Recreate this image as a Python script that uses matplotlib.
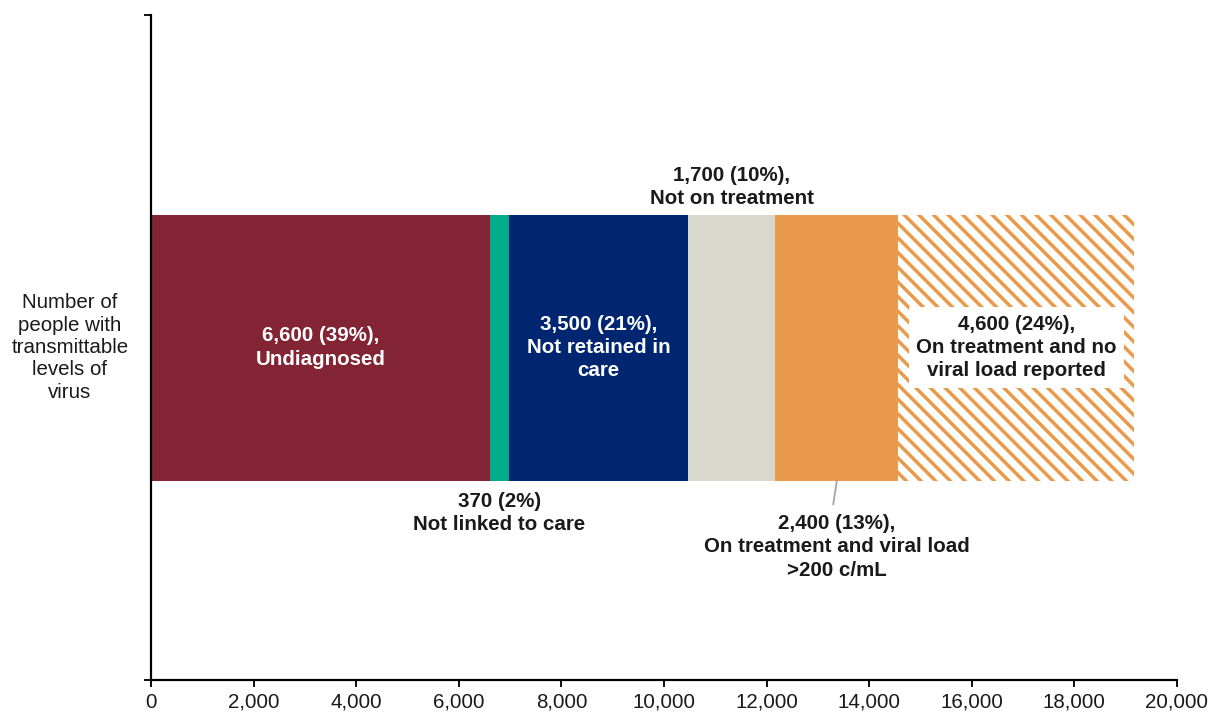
import matplotlib
matplotlib.use("Agg")
import matplotlib.pyplot as plt
from matplotlib.ticker import FuncFormatter

# values
values = [6600, 370, 3500, 1700, 2400, 4600]
labels = [
    "6,600 (39%),\nUndiagnosed",
    "370 (2%)\nNot linked to care",
    "3,500 (21%),\nNot retained in\ncare",
    "1,700 (10%),\nNot on treatment",
    "2,400 (13%),\nOn treatment and viral load\n>200 c/mL",
    "4,600 (24%),\nOn treatment and no\nviral load reported",
]
colors = ["#822433", "#00AE8D", "#002672", "#D9D8CC", "#E99A4B", "#E99A4B"]
row_label = "Number of\npeople with\ntransmittable\nlevels of\nvirus"
xticks = list(range(0, 20001, 2000))

DPI = 132
plt.rcParams["font.family"] = ["Liberation Sans", "DejaVu Sans"]
plt.rcParams["hatch.linewidth"] = 1.9

fig = plt.figure(figsize=(1213 / DPI, 716 / DPI), dpi=DPI)
ax = fig.add_axes([151 / 1213, 36 / 716, 1026 / 1213, 665 / 716])

left = 0
mids = []
for i, (v, c) in enumerate(zip(values, colors)):
    if i == len(values) - 1:
        ax.barh(0, v, left=left, height=0.4, color="white", edgecolor=c,
                hatch="\\\\\\", linewidth=0)
    else:
        ax.barh(0, v, left=left, height=0.4, color=c, linewidth=0)
    mids.append(left + v / 2)
    left += v

fs = 11.2
kw = dict(ha="center", va="center", fontsize=fs, fontweight="bold", linespacing=1.3)
ax.text(mids[0], 0, labels[0], color="white", **kw)
ax.text(mids[2], 0, labels[2], color="white", **kw)
ax.text(mids[1], -0.249, labels[1], color="#1a1a1a", **kw)
ax.text(mids[3], 0.241, labels[3], color="#1a1a1a", **kw)
ax.text(mids[4], -0.30, labels[4], color="#1a1a1a", **kw)
ax.text(mids[5], 0, labels[5], color="#1a1a1a",
        bbox=dict(facecolor="white", edgecolor="none", pad=4), **kw)

# leader line for the 2,400 segment
ax.annotate("", xy=(mids[4], -0.2), xytext=(-2, -13), textcoords="offset points",
            arrowprops=dict(arrowstyle="-", color="#A6A6A6", lw=1, shrinkA=0, shrinkB=0))

ax.text(-0.079, 0, row_label, transform=ax.get_yaxis_transform(), ha="center",
        va="center", fontsize=fs, linespacing=1.22, color="#1a1a1a")

ax.set_xlim(0, 20000)
ax.set_ylim(-0.5, 0.5)
ax.set_xticks(xticks)
ax.xaxis.set_major_formatter(FuncFormatter(lambda v, p: f"{int(v):,}"))
ax.set_yticks([-0.5, 0.5])
ax.set_yticklabels([])
ax.tick_params(axis="x", direction="out", length=4, width=1, pad=3,
               labelsize=fs, labelcolor="#1a1a1a")
ax.tick_params(axis="y", direction="out", length=4, width=1)
for s in ["top", "right"]:
    ax.spines[s].set_visible(False)
for s in ["left", "bottom"]:
    ax.spines[s].set_linewidth(1.2)

fig.savefig("out.png", dpi=DPI)
